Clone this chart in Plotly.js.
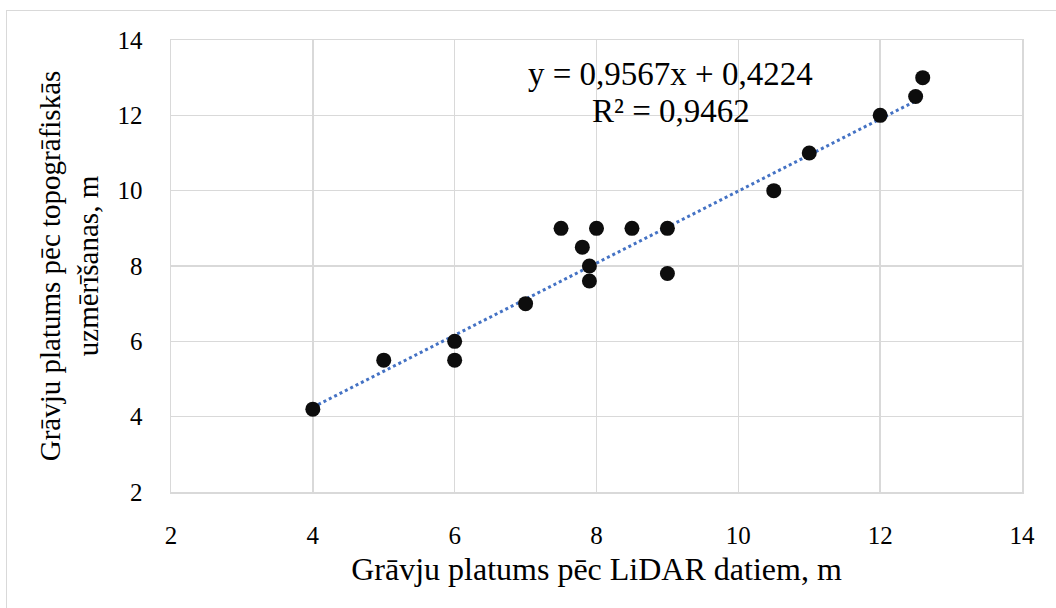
<!DOCTYPE html>
<html><head><meta charset="utf-8">
<script src="https://cdn.plot.ly/plotly-3.0.1.min.js"></script>
<style>html,body{margin:0;padding:0;background:#fff;overflow:hidden}
#frame{position:absolute;left:6px;top:10px;width:1060px;height:610px;border:1px solid #d9d9d9;pointer-events:none;z-index:5}
#chart{width:1056px;height:608px}</style>
</head><body>
<div id="frame"></div>
<div id="chart"></div>
<script>
const xLidar = [4, 5, 6, 6, 7, 7.5, 7.8, 7.9, 7.9, 8, 8.5, 9, 9, 10.5, 11, 12, 12.5, 12.6];
const yTopo  = [4.2, 5.5, 6, 5.5, 7, 9, 8.5, 8, 7.6, 9, 9, 9, 7.8, 10, 11, 12, 12.5, 13];
const trendSlope = 0.9567;
const trendIntercept = 0.4224;
const eqText = "y = 0,9567x + 0,4224";
const r2Text = "R² = 0,9462";
const xTitle = "Grāvju platums pēc LiDAR datiem, m";
const yTitle = "Grāvju platums pēc topogrāfiskās<br>uzmērīšanas, m";
const tickVals = [2, 4, 6, 8, 10, 12, 14];

const xMin = Math.min(...xLidar), xMax = Math.max(...xLidar);
const trendX = [xMin, xMax];
const trendY = trendX.map(v => trendSlope * v + trendIntercept);

const font = 'Liberation Serif, Times New Roman, serif';
const traces = [
  {x: trendX, y: trendY, mode: 'lines', type: 'scatter',
   line: {color: '#4472C4', width: 3, dash: 'dot'}, hoverinfo: 'skip', showlegend: false},
  {x: xLidar, y: yTopo, mode: 'markers', type: 'scatter',
   marker: {color: '#0d0d0d', size: 15}, showlegend: false}
];
const layout = {
  width: 1056, height: 608,
  margin: {l: 171, r: 34, t: 40, b: 116},
  paper_bgcolor: '#fff', plot_bgcolor: '#fff',
  font: {family: font, color: '#000'},
  showlegend: false,
  xaxis: {range: [2, 14], tickvals: tickVals, showgrid: true, gridcolor: '#d9d9d9', gridwidth: 1.5,
          zeroline: false, showline: true, linecolor: '#d9d9d9', linewidth: 1.5, mirror: true,
          ticks: '', ticklabelstandoff: 20, tickfont: {family: font, size: 25, color: '#000'},
          title: {text: xTitle, font: {family: font, size: 32, color: '#000'}, standoff: 10}},
  yaxis: {range: [2, 14], tickvals: tickVals, showgrid: true, gridcolor: '#d9d9d9', gridwidth: 1.5,
          zeroline: false, showline: true, linecolor: '#d9d9d9', linewidth: 1.5, mirror: true,
          ticks: '', ticklabelstandoff: 22, tickfont: {family: font, size: 25, color: '#000'},
          title: {text: yTitle, font: {family: font, size: 29, color: '#000'}, standoff: 10}},
  annotations: [
    {x: 9.05, y: 13.10, xref: 'x', yref: 'y', text: eqText, showarrow: false,
     font: {family: font, size: 33, color: '#000'}, xanchor: 'center', yanchor: 'middle'},
    {x: 9.05, y: 12.12, xref: 'x', yref: 'y', text: r2Text, showarrow: false,
     font: {family: font, size: 33, color: '#000'}, xanchor: 'center', yanchor: 'middle'}
  ]
};
Plotly.newPlot('chart', traces, layout, {displayModeBar: false, staticPlot: true});
</script>
</body></html>
